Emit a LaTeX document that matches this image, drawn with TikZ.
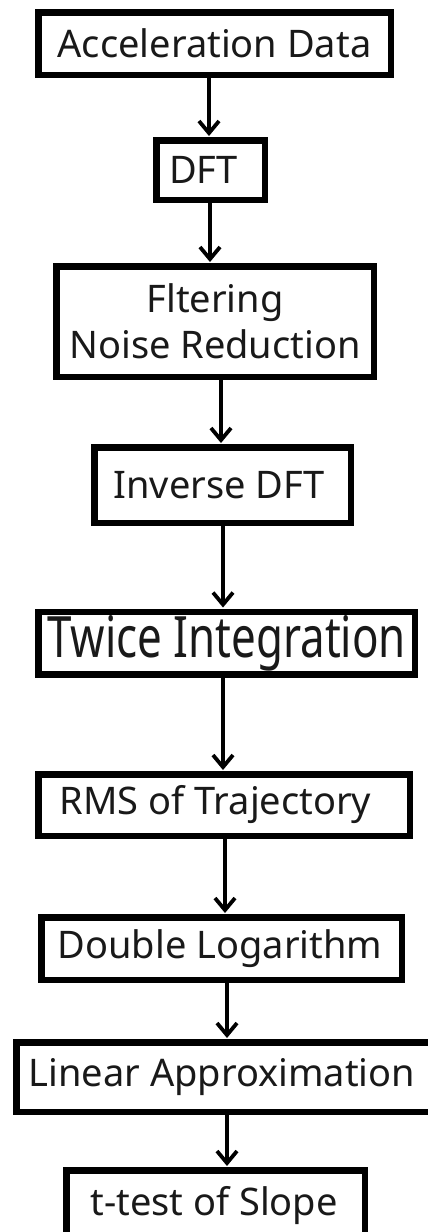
\documentclass[tikz,border=0pt]{standalone}
\usepackage{fontspec}
\setmainfont{Noto Sans}
\usetikzlibrary{arrows.meta}
\begin{document}
\begin{tikzpicture}[x=1pt,y=-1pt,
  stepbox/.style={draw=black, line width=6.5pt, rectangle, inner sep=0pt,
    align=center, font=\fontsize{38}{46}\selectfont, text=black!90},
  arr/.style={line width=3.4pt, -{Straight Barb[length=12pt,width=20pt,line width=3.8pt]}, shorten >=1pt}
]
\useasboundingbox (0,0) rectangle (428,1232);
\clip (0,0) rectangle (428,1232);
\fill[white] (0,0) rectangle (428,1232);

\node[stepbox, minimum width=352.5pt, minimum height=62.5pt] (acc) at (214.5,43.5) {Acceleration Data};
\node[stepbox, minimum width=108.5pt, minimum height=59.5pt] (dft) at (210.5,170) {DFT\hspace*{14pt}};
\node[stepbox, minimum width=317.5pt, minimum height=110.5pt] (flt) at (215,321.5) {Fltering\\Noise Reduction};
\node[stepbox, minimum width=256.5pt, minimum height=75.5pt] (inv) at (222.5,485) {Inverse DFT\hspace*{7pt}};
\node[stepbox, minimum width=376.5pt, minimum height=62.5pt, font=\fontsize{57}{60}\selectfont] (twi) at (226.5,643) {\scalebox{0.77}[1]{Twice Integration}};
\node[stepbox, minimum width=371.5pt, minimum height=61.5pt] (rms) at (224,805) {RMS of Trajectory\hspace*{17pt}};
\node[stepbox, minimum width=360.5pt, minimum height=62.5pt] (dbl) at (221.5,948.5) {Double Logarithm\hspace*{3pt}};
\node[stepbox, minimum width=416.5pt, minimum height=69.5pt] (lin) at (224.5,1077) {Linear Approximation\hspace*{5pt}};
\node[stepbox, minimum width=298.5pt, minimum height=71.5pt] (tts) at (215.5,1206) {t-test of Slope\hspace*{3pt}};

\draw[arr] (acc.south -| 209,0) -- (dft.north -| 209,0);
\draw[arr] (dft.south -| 210,0) -- (flt.north -| 210,0);
\draw[arr] (flt.south -| 221,0) -- (inv.north -| 221,0);
\draw[arr] (inv.south -| 223,0) -- (twi.north -| 223,0);
\draw[arr] (twi.south -| 223,0) -- (rms.north -| 223,0);
\draw[arr] (rms.south -| 225,0) -- (dbl.north -| 225,0);
\draw[arr] (dbl.south -| 227,0) -- (lin.north -| 227,0);
\draw[arr] (lin.south -| 227,0) -- (tts.north -| 227,0);
\end{tikzpicture}
\end{document}
